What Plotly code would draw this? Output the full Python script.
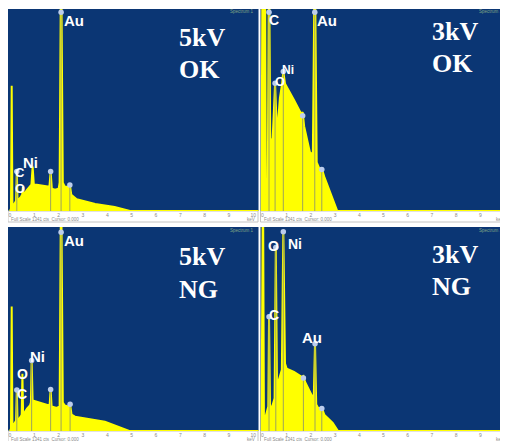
import plotly.graph_objects as go

# ---------------- data (energy in keV, counts as % of full scale) ----------------
tick_vals = [0, 1, 2, 3, 4, 5, 6, 7, 8, 9, 10]
tick_text = ["0", "1", "2", "3", "4", "5", "6", "7", "8", "9", "10"]

# 5kV OK
e_5ok = [0.00, 0.04, 0.07, 0.10, 0.20, 0.25, 0.28, 0.31, 0.45, 0.50, 0.53, 0.56, 0.70, 0.82, 0.88,
         0.93, 0.98, 1.10, 1.50, 1.62, 1.67, 1.72, 1.85, 2.00, 2.04, 2.10, 2.17, 2.25, 2.40, 2.46,
         2.52, 2.74, 3.50, 4.30, 4.93, 10.3]
c_5ok = [0, 1, 62, 2, 4, 5, 19.5, 5, 7, 8, 12, 8, 10.5, 12, 13,
         22, 13, 13, 12, 12, 19.5, 11, 10.5, 11, 14, 130, 14, 12, 12, 13,
         8, 5.8, 3.5, 2, 0, 0]
mk_5ok_e = [2.10, 0.28, 1.67, 2.46]
mk_5ok_c = [98.4, 19.5, 19.5, 12.9]
lb_5ok_t = ["Au", "Ni", "C", "O"]
lb_5ok_e = [2.10, 0.93, 0.28, 0.53]
lb_5ok_c = [98.4, 22.8, 19.5, 12.0]

# 3kV OK
e_3ok = [-0.04, 0.00, 0.04, 0.10, 0.14, 0.22, 0.27, 0.32, 0.42, 0.52, 0.58, 0.63, 0.72, 0.80,
         0.86, 0.93, 1.30, 1.60, 1.66, 1.72, 1.96, 2.08, 2.16, 2.24, 2.35, 2.45, 2.55, 3.09, 10.3]
c_3ok = [0, 130, 5, 130, 8, 14, 130, 34, 36, 63, 44, 42, 56, 62,
         69, 63, 55, 48, 49, 42, 29, 28, 130, 24, 21, 21, 17, 0, 0]
mk_3ok_e = [0.27, 2.16, 0.86, 0.52, 1.66, 2.45]
mk_3ok_c = [98.4, 98.4, 69.0, 63.2, 47.2, 20.6]
lb_3ok_t = ["C", "Au", "Ni", "O"]
lb_3ok_e = [0.27, 2.16, 0.86, 0.52]
lb_3ok_c = [98.4, 98.4, 69.0, 63.2]

# 5kV NG
e_5ng = [0.00, 0.04, 0.07, 0.10, 0.20, 0.25, 0.28, 0.31, 0.44, 0.48, 0.51, 0.54, 0.70, 0.82, 0.86,
         0.89, 0.93, 1.10, 1.40, 1.57, 1.63, 1.67, 1.71, 1.92, 2.04, 2.10, 2.17, 2.25, 2.40, 2.47,
         2.53, 2.67, 3.90, 4.50, 4.90, 10.3]
c_5ng = [0, 1, 61, 2, 4, 5, 20, 5, 7, 8, 28, 8, 11, 12.5, 14,
         34.5, 15, 14.4, 13, 12.7, 13, 20.4, 12, 11.3, 12, 130, 14, 12.5, 12, 13.1,
         8, 7, 4.5, 2, 0, 0]
mk_5ng_e = [2.10, 0.89, 0.28, 1.67, 2.47]
mk_5ng_c = [97.4, 34.5, 20.1, 20.4, 13.1]
lb_5ng_t = ["Au", "Ni", "O", "C"]
lb_5ng_e = [2.10, 0.89, 0.51, 0.28]
lb_5ng_c = [97.4, 34.5, 28.0, 20.1]

# 3kV NG
e_3ng = [-0.04, 0.02, 0.06, 0.18, 0.24, 0.27, 0.31, 0.40, 0.50, 0.55, 0.60, 0.70, 0.80, 0.86,
         0.93, 1.00, 1.30, 1.62, 1.69, 1.76, 2.03, 2.12, 2.17, 2.22, 2.31, 2.45, 2.55, 2.90, 3.12, 10.3]
c_3ng = [0, 130, 4, 9, 12, 56, 12, 12, 16, 90, 22, 26, 30, 98,
         33, 30.5, 29, 26.5, 27, 24, 17.5, 17, 43, 13, 11, 11.5, 8, 4, 0, 0]
mk_3ng_e = [0.86, 0.27, 0.55, 2.17, 1.69, 2.45]
mk_3ng_c = [97.7, 56.0, 90.0, 42.8, 26.0, 11.0]
lb_3ng_t = ["Ni", "O", "C", "Au"]
lb_3ng_e = [0.86, 0.55, 0.27, 2.17]
lb_3ng_c = [97.7, 90.0, 56.0, 42.8]

# ---------------- styling / layout ----------------
PAGE_OFF = 8           # default page margin around the figure
W, H = 508 - PAGE_OFF, 441 - PAGE_OFF
BLUE = "#0b3674"
YELLOW = "#ffff00"
OLIVE = "#9da45c"
MARK = "#bccdec"


def pxx(x):
    return (x - PAGE_OFF) / W


def pxy(y):
    return 1 - (y - PAGE_OFF) / H


panels = [
    dict(e=e_5ok, c=c_5ok, mke=mk_5ok_e, mkc=mk_5ok_c, lt=lb_5ok_t, le=lb_5ok_e, lc=lb_5ok_c,
         off=[(13, -8, 15), (-2, 2, 15), (3, -1, 13), (-3, -2, 13)],
         xd=(8, 258.5), yd=(9, 211), zero=10, scale=24.33,
         big=[("5kV", 177, 37), ("OK", 177, 69)]),
    dict(e=e_3ok, c=c_3ok, mke=mk_3ok_e, mkc=mk_3ok_c, lt=lb_3ok_t, le=lb_3ok_e, lc=lb_3ok_c,
         off=[(5, -8, 14), (12, -8, 15), (5, 2, 12), (5, 1.5, 13)],
         xd=(260.5, 508), yd=(9, 211), zero=262.5, scale=24.2,
         big=[("3kV", 430, 32), ("OK", 430, 64)]),
    dict(e=e_5ng, c=c_5ng, mke=mk_5ng_e, mkc=mk_5ng_c, lt=lb_5ng_t, le=lb_5ng_e, lc=lb_5ng_c,
         off=[(13, -8, 15), (6, 4, 15), (0, 0, 14), (5, -4, 14)],
         xd=(8, 258.5), yd=(227, 431), zero=10, scale=24.33,
         big=[("5kV", 177, 256), ("NG", 177, 289)]),
    dict(e=e_3ng, c=c_3ng, mke=mk_3ng_e, mkc=mk_3ng_c, lt=lb_3ng_t, le=lb_3ng_e, lc=lb_3ng_c,
         off=[(12, -12, 14), (-2, 1.5, 14), (5, 2, 14), (-3, 6, 15)],
         xd=(260.5, 508), yd=(227, 431), zero=262.5, scale=24.2,
         big=[("3kV", 430, 254), ("NG", 430, 286)]),
]

fig = go.Figure()
annotations = []
shapes = []
layout = dict(
    width=W, height=H, margin=dict(l=0, r=0, t=0, b=0),
    paper_bgcolor="white", plot_bgcolor=BLUE, showlegend=False,
)

for i, p in enumerate(panels, start=1):
    xs = "x" if i == 1 else f"x{i}"
    ys = "y" if i == 1 else f"y{i}"
    xa = "xaxis" if i == 1 else f"xaxis{i}"
    ya = "yaxis" if i == 1 else f"yaxis{i}"
    x0, x1 = p["xd"]
    y0, y1 = p["yd"]
    rng = [(x0 - p["zero"]) / p["scale"], (x1 - p["zero"]) / p["scale"]]
    layout[xa] = dict(domain=[max(0, pxx(x0)), min(1, pxx(x1))], range=rng, anchor=ys,
                      showgrid=False, zeroline=False, showline=False, ticks="",
                      tickvals=tick_vals, ticktext=tick_text,
                      tickfont=dict(size=5, color="#8a8a8a", family="Liberation Sans"),
                      ticklabelstandoff=0, fixedrange=True)
    layout[ya] = dict(domain=[pxy(y1), pxy(y0)], range=[0, 100], anchor=xs,
                      visible=False, fixedrange=True)

    # spectrum
    fig.add_trace(go.Scatter(x=p["e"], y=p["c"], xaxis=xs, yaxis=ys, mode="lines",
                             line=dict(color=YELLOW, width=2), fill="tozeroy",
                             fillcolor=YELLOW, hoverinfo="skip"))
    # element lines from peak markers
    lx, ly = [], []
    for e, c in zip(p["mke"], p["mkc"]):
        lx += [e, e, None]
        ly += [0, c, None]
    fig.add_trace(go.Scatter(x=lx, y=ly, xaxis=xs, yaxis=ys, mode="lines",
                             line=dict(color=OLIVE, width=1), hoverinfo="skip"))
    # peak markers
    fig.add_trace(go.Scatter(x=p["mke"], y=p["mkc"], xaxis=xs, yaxis=ys, mode="markers",
                             marker=dict(symbol="circle", size=5.5, color=MARK),
                             cliponaxis=False, hoverinfo="skip"))
    # element labels
    for t, e, c, (dx, dy, fs) in zip(p["lt"], p["le"], p["lc"], p["off"]):
        annotations.append(dict(x=e, y=c, xref=xs, yref=ys, text=f"<b>{t}</b>", showarrow=False,
                                xanchor="center", yanchor="middle", xshift=dx, yshift=dy,
                                font=dict(family="Liberation Sans", size=fs, color="white")))
    # big condition text
    for t, bx, by in p["big"]:
        annotations.append(dict(x=pxx(bx), y=pxy(by), xref="paper", yref="paper", text=f"<b>{t}</b>",
                                showarrow=False, xanchor="left", yanchor="middle",
                                font=dict(family="Liberation Serif", size=26, color="white")))
    # axis strip
    shapes.append(dict(type="rect", xref="paper", yref="paper", x0=pxx(x0), x1=pxx(x1 - 0.5),
                       y0=pxy(y1 + 11), y1=pxy(y1), line=dict(color="#c4c4c4", width=1),
                       fillcolor="white", layer="below"))
    annotations.append(dict(x=pxx(x0 + 1), y=pxy(y1 + 8.5), xref="paper", yref="paper",
                            text="Full Scale 1341 cts  Cursor: 0.000", showarrow=False,
                            xanchor="left", yanchor="middle",
                            font=dict(family="Liberation Sans", size=4.5, color="#8a8a8a")))
    annotations.append(dict(x=pxx(x1 - 2), y=pxy(y1 + 8.5), xref="paper", yref="paper",
                            text="keV", showarrow=False, xanchor="right", yanchor="middle",
                            font=dict(family="Liberation Sans", size=4.5, color="#8a8a8a")))
    annotations.append(dict(x=pxx(x1 - 3), y=pxy(y0 + 3), xref="paper", yref="paper",
                            text="Spectrum 1", showarrow=False, xanchor="right", yanchor="middle",
                            font=dict(family="Liberation Sans", size=4.5, color="#7fa585")))

layout["annotations"] = annotations
layout["shapes"] = shapes
fig.update_layout(**layout)
fig.write_html("out.html")
